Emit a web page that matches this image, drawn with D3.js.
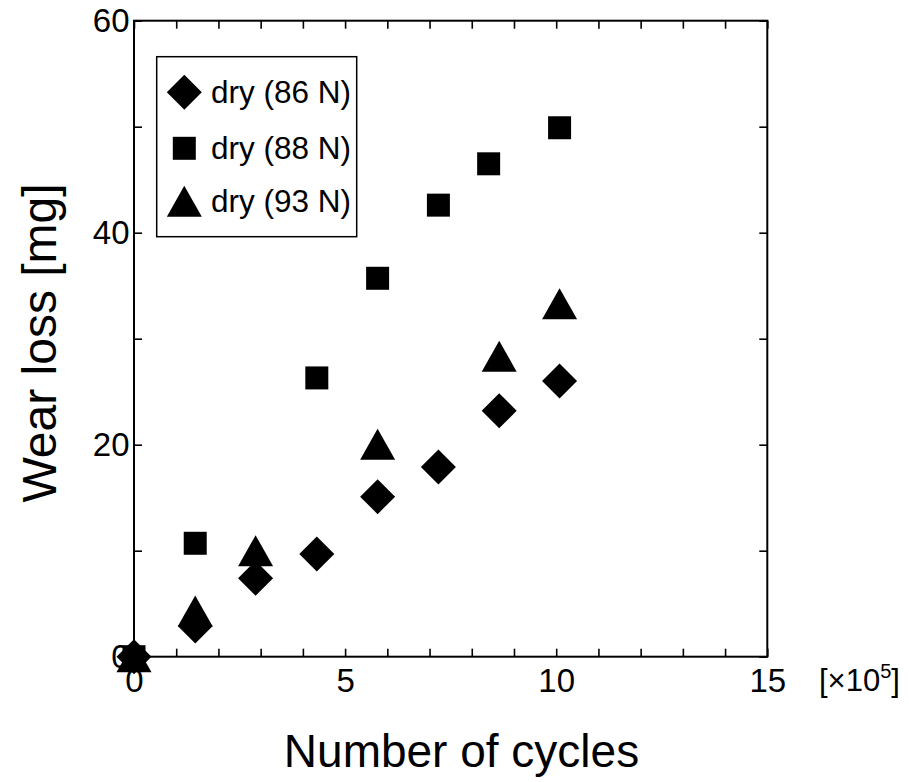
<!DOCTYPE html>
<html><head><meta charset="utf-8">
<script src="https://cdn.jsdelivr.net/npm/d3@7"></script>
<style>body{margin:0;background:#fff}svg{display:block}text{font-family:"Liberation Sans",Arial,sans-serif;fill:#000}</style>
</head><body>
<script>
// ---- data ----
const cycles86 = [0, 1.45, 2.88, 4.33, 5.77, 7.21, 8.65, 10.08];
const wear86   = [0, 2.9, 7.4, 9.7, 15.1, 17.9, 23.2, 26.0];
const cycles88 = [0, 1.45, 4.33, 5.77, 7.21, 8.40, 10.08];
const wear88   = [0, 10.7, 26.3, 35.7, 42.6, 46.5, 49.9];
const cycles93 = [0, 1.45, 2.88, 5.77, 8.65, 10.08];
const wear93   = [0, 4.3, 10.0, 20.05, 28.35, 33.3];
const seriesNames = ["dry (86 N)", "dry (88 N)", "dry (93 N)"];
const xTicks = [0,1,2,3,4,5,6,7,8,9,10,11,12,13,14,15];
const xLabels = [0,5,10,15];
const yTicks = [0,10,20,30,40,50,60];
const yLabels = [0,20,40,60];

const W = 909, H = 782;
const L = 134, R = 767.3, T = 20.7, B = 656.7;
const svg = d3.select("body").append("svg").attr("width", W).attr("height", H);
const x = d3.scaleLinear().domain([0,15]).range([L,R]);
const y = d3.scaleLinear().domain([0,60]).range([B,T]);

// custom symbols
const diamond = {draw(c, s){ const r = Math.sqrt(s)/2; c.moveTo(0,-r); c.lineTo(r,0); c.lineTo(0,r); c.lineTo(-r,0); c.closePath(); }};
const square = {draw(c, s){ const r = Math.sqrt(s)/2; c.rect(-r,-r,2*r,2*r); }};
const triangle = {draw(c, s){ const w = Math.sqrt(s)/2, h = w*0.886; c.moveTo(0,-h); c.lineTo(w,h); c.lineTo(-w,h); c.closePath(); }};
const shapes = [d3.symbol().type(diamond).size(35*35), d3.symbol().type(square).size(23*23), d3.symbol().type(triangle).size(35*35)];

const fmtX = d => xLabels.includes(d) ? String(d) : "";
const fmtY = d => yLabels.includes(d) ? String(d) : "";
const style = g => { g.select(".domain").remove(); g.selectAll("line").attr("stroke","#000").attr("stroke-width",1.6); g.selectAll("text").attr("font-size",33).attr("font-family",'"Liberation Sans",Arial,sans-serif'); };

svg.append("g").attr("transform",`translate(0,${B})`).call(d3.axisBottom(x).tickValues(xTicks).tickSize(-8).tickPadding(11.5).tickFormat(fmtX)).call(style);
svg.append("g").attr("transform",`translate(0,${T})`).call(d3.axisTop(x).tickValues(xTicks).tickSize(-8).tickFormat("")).call(style);
svg.append("g").attr("transform",`translate(${L},0)`).call(d3.axisLeft(y).tickValues(yTicks).tickSize(-8).tickPadding(4.5).tickFormat(fmtY)).call(style);
svg.append("g").attr("transform",`translate(${R},0)`).call(d3.axisRight(y).tickValues(yTicks).tickSize(-8).tickFormat("")).call(style);

svg.append("rect").attr("x",L).attr("y",T).attr("width",R-L).attr("height",B-T).attr("fill","none").attr("stroke","#000").attr("stroke-width",2);

// x unit label
const u = svg.append("text").attr("x",819).attr("y",691).attr("font-size",31);
u.append("tspan").text("[×10");
u.append("tspan").attr("font-size",20).attr("dy",-13).text("5");
u.append("tspan").attr("dy",13).text("]");

// titles
svg.append("text").attr("x",461.5).attr("y",766.7).attr("text-anchor","middle").attr("font-size",46).text("Number of cycles");
svg.append("text").attr("transform","translate(56,343) rotate(-90)").attr("text-anchor","middle").attr("font-size",48).text("Wear loss [mg]");

// data points
const series = [[cycles86,wear86],[cycles88,wear88],[cycles93,wear93]];
series.forEach(([cx,wy],i) => {
  svg.append("g").selectAll("path").data(cx.map((c,j)=>[c,wy[j]])).join("path")
    .attr("transform",d=>`translate(${x(d[0])},${y(d[1])})`).attr("d",shapes[i]()).attr("fill","#000");
});

// legend
const lg = svg.append("g");
lg.append("rect").attr("x",156.7).attr("y",56.7).attr("width",200).attr("height",180).attr("fill","#fff").attr("stroke","#000").attr("stroke-width",1.5);
const ly = [92.3,148.3,201.3];
seriesNames.forEach((n,i)=>{
  lg.append("path").attr("transform",`translate(184.3,${ly[i]})`).attr("d",shapes[i]()).attr("fill","#000");
  lg.append("text").attr("x",211).attr("y",ly[i]+11).attr("font-size",31.5).text(n);
});
</script>
</body></html>
